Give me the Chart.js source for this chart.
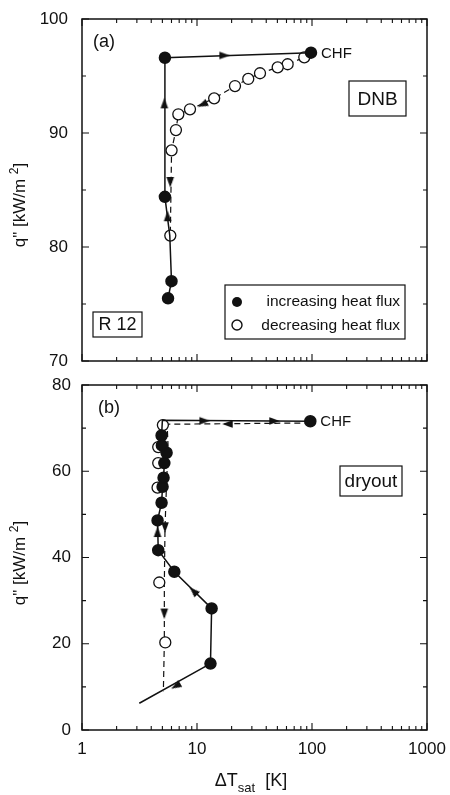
<!DOCTYPE html>
<html>
<head>
<meta charset="utf-8">
<script src="https://cdn.jsdelivr.net/npm/chart.js@4.4.0/dist/chart.umd.min.js"></script>
<style>
  html, body { margin: 0; padding: 0; background: #fff; }
  .panel { position: absolute; left: 0; width: 450px; }
</style>
</head>
<body>
<div class="panel" style="top:0;height:380px"><canvas id="chartA"></canvas></div>
<div class="panel" style="top:370px;height:425px"><canvas id="chartB"></canvas></div>
<script>
// ---- panel (a): DNB ----
const aIncX = [5.6, 6.0, 5.8, 5.26, 5.26, 98];
const aIncY = [75.5, 77.0, 81.0, 84.4, 96.6, 97.05];
const aIncMarker = [1, 1, 0, 1, 1, 1];
const aDecX = [98, 85.7, 61.4, 50.3, 35.3, 27.9, 21.4, 14.1, 8.69, 6.88, 6.56, 6.01, 5.86];
const aDecY = [97.05, 96.64, 96.03, 95.76, 95.24, 94.74, 94.12, 93.04, 92.08, 91.64, 90.26, 88.48, 81.0];
const aArrowX = [5.55, 5.2, 17.3, 11.2, 5.86];
const aArrowY = [82.7, 92.6, 96.8, 92.5, 85.7];
const aArrowRot = [0, 0, 90, 245, 180];

// ---- panel (b): dryout ----
const bIncX = [3.15, 13.1, 13.4, 6.35, 4.6, 4.54, 4.92, 5.02, 5.12, 5.2, 5.44, 4.95, 4.92, 5.0, 96.7];
const bIncY = [6.2, 15.4, 28.2, 36.7, 41.7, 48.6, 52.7, 56.4, 58.5, 61.9, 64.3, 66.0, 68.3, 71.8, 71.6];
const bIncMarker = [0, 1, 1, 1, 1, 1, 1, 1, 1, 1, 1, 1, 1, 0, 1];
const bDecX = [96.7, 5.5, 5.6, 5.4, 5.27, 5.2, 5.2, 5.1];
const bDecY = [71.2, 70.9, 66, 55, 47, 34, 20.3, 9.0];
const bOpenX = [5.05, 4.6, 4.6, 4.54, 4.7, 5.3];
const bOpenY = [70.7, 65.6, 61.9, 56.2, 34.2, 20.3];
const bArrowX = [11.6, 47, 4.54, 9.34, 6.56, 18.5, 5.27, 5.2];
const bArrowY = [71.7, 71.65, 45.9, 32.2, 10.2, 70.95, 47, 27];
const bArrowRot = [90, 90, 0, 314, 240, 270, 180, 180];

const xTickLabels = [1, 10, 100, 1000];

const INK = '#111';
const FONT = '"Liberation Sans", Arial, Helvetica, sans-serif';

function pts(xs, ys) { return xs.map((x, i) => ({ x: x, y: ys[i] })); }

// narrow arrowhead pointing up; Chart.js rotates it with pointRotation
const arrowHead = document.createElement('canvas');
arrowHead.width = 14; arrowHead.height = 14;
(function () {
  const c = arrowHead.getContext('2d');
  c.fillStyle = INK;
  c.beginPath();
  c.moveTo(7, 1.5); c.lineTo(10.8, 12); c.lineTo(3.2, 12);
  c.closePath(); c.fill();
})();

function drawRich(ctx, parts, x, y, align) {
  // parts: [text, size, dy]
  let w = 0;
  parts.forEach(p => { ctx.font = p[1] + 'px ' + FONT; w += ctx.measureText(p[0]).width; });
  let cx = align === 'center' ? x - w / 2 : x;
  ctx.textAlign = 'left';
  ctx.textBaseline = 'alphabetic';
  parts.forEach(p => {
    ctx.font = p[1] + 'px ' + FONT;
    ctx.fillText(p[0], cx, y + p[2]);
    cx += ctx.measureText(p[0]).width;
  });
}

function boxText(ctx, text, x0, y0, x1, y1, size) {
  ctx.lineWidth = 1.2;
  ctx.strokeRect(x0, y0, x1 - x0, y1 - y0);
  ctx.font = size + 'px ' + FONT;
  ctx.textAlign = 'center';
  ctx.textBaseline = 'middle';
  ctx.fillText(text, (x0 + x1) / 2, (y0 + y1) / 2 + 1);
}

function decoPlugin(cfg) {
  return {
    id: 'deco',
    afterDraw(chart) {
      const ctx = chart.ctx, a = chart.chartArea;
      const xs = chart.scales.x, ys = chart.scales.y;
      ctx.save();
      ctx.strokeStyle = INK;
      ctx.fillStyle = INK;
      ctx.lineWidth = 1.5;
      ctx.strokeRect(a.left, a.top, a.right - a.left, a.bottom - a.top);

      // inward ticks
      ctx.lineWidth = 1.1;
      ctx.beginPath();
      for (let d = 1; d <= 1000; d *= 10) {
        for (let k = 1; k < 10; k++) {
          const v = k * d;
          if (v > 1000) break;
          const px = xs.getPixelForValue(v);
          const len = k === 1 ? 7 : 4;
          ctx.moveTo(px, a.bottom); ctx.lineTo(px, a.bottom - len);
          ctx.moveTo(px, a.top); ctx.lineTo(px, a.top + len);
        }
      }
      for (let v = ys.min; v <= ys.max + 0.001; v += cfg.yMinor) {
        const py = ys.getPixelForValue(v);
        const len = (Math.round(v - ys.min) % cfg.yMajor === 0) ? 7 : 4;
        ctx.moveTo(a.left, py); ctx.lineTo(a.left + len, py);
        ctx.moveTo(a.right, py); ctx.lineTo(a.right - len, py);
      }
      ctx.stroke();

      // panel letter
      ctx.font = '18px ' + FONT;
      ctx.textAlign = 'center';
      ctx.textBaseline = 'middle';
      ctx.fillText(cfg.letter[0], cfg.letter[1], cfg.letter[2]);

      // CHF label next to the CHF point
      ctx.font = '15px ' + FONT;
      ctx.textAlign = 'left';
      ctx.fillText('CHF', xs.getPixelForValue(cfg.chf[0]) + 10, ys.getPixelForValue(cfg.chf[1]) + 1);

      // boxed notes
      cfg.boxes.forEach(b => boxText(ctx, b[0], b[1], b[2], b[3], b[4], b[5]));

      // y title
      ctx.save();
      ctx.translate(cfg.yTitle[0], cfg.yTitle[1]);
      ctx.rotate(-Math.PI / 2);
      drawRich(ctx, [['q" [kW/m ', 17, 0], ['2', 12, -7], [']', 17, 0]], 0, 6, 'center');
      ctx.restore();

      // x title
      if (cfg.xTitle) {
        drawRich(ctx, [['\u0394T', 18, 0], ['sat', 13, 6], ['  [K]', 18, 0]], cfg.xTitle[0], cfg.xTitle[1], 'center');
      }

      // legend
      if (cfg.legend) {
        const L = cfg.legend;
        ctx.lineWidth = 1.2;
        ctx.strokeRect(L[0], L[1], L[2] - L[0], L[3] - L[1]);
        const mx = L[0] + 12, y1 = L[1] + 17, y2 = L[1] + 40;
        ctx.beginPath(); ctx.arc(mx, y1, 5, 0, Math.PI * 2); ctx.fill();
        ctx.beginPath(); ctx.arc(mx, y2, 5, 0, Math.PI * 2); ctx.lineWidth = 1.4; ctx.stroke();
        ctx.font = '15.5px ' + FONT;
        ctx.textAlign = 'right';
        ctx.textBaseline = 'middle';
        ctx.fillText('increasing heat flux', L[2] - 5, y1);
        ctx.fillText('decreasing heat flux', L[2] - 5, y2 + 1);
      }
      ctx.restore();
    }
  };
}

function noPad(s) { s.paddingTop = 0; s.paddingBottom = 0; s.paddingLeft = 0; s.paddingRight = 0; }

function scalesFor(yMin, yMax, yStep, yPad, xHeight, showX) {
  return {
    x: {
      type: 'logarithmic', min: 1, max: 1000,
      grid: { display: false, drawTicks: false },
      border: { display: false },
      ticks: {
        display: showX, autoSkip: false, maxRotation: 0, padding: 9,
        color: INK, font: { family: FONT, size: 17 },
        callback: v => (xTickLabels.includes(v) ? String(v) : '')
      },
      afterFit: s => { s.height = xHeight; noPad(s); }
    },
    y: {
      min: yMin, max: yMax,
      grid: { display: false, drawTicks: false },
      border: { display: false },
      ticks: { stepSize: yStep, padding: yPad, color: INK, font: { family: FONT, size: 17 } },
      afterFit: s => { s.width = 82; noPad(s); }
    }
  };
}

const common = {
  animation: false, responsive: true, maintainAspectRatio: false, events: [],
  plugins: { legend: { display: false }, tooltip: { enabled: false } }
};

const arrowStyle = (xs, ys, rot) => ({
  data: pts(xs, ys), showLine: false, pointStyle: arrowHead,
  pointRadius: 5, pointRotation: rot, order: 3
});

new Chart(document.getElementById('chartA'), {
  type: 'scatter',
  data: {
    datasets: [
      {
        data: pts(aIncX, aIncY), showLine: true, borderColor: INK, borderWidth: 1.5,
        pointRadius: aIncMarker.map(m => m ? 5.5 : 0), pointBackgroundColor: INK,
        pointBorderColor: INK, order: 1
      },
      arrowStyle(aArrowX, aArrowY, aArrowRot),
      {
        data: pts(aDecX, aDecY), showLine: true, borderColor: INK, borderWidth: 1.2,
        borderDash: [6, 4], pointRadius: aDecX.map((v, i) => i === 0 ? 0 : 5.5),
        pointBackgroundColor: '#fff', pointBorderColor: INK, pointBorderWidth: 1.3, order: 4
      }
    ]
  },
  options: Object.assign({}, common, {
    layout: { padding: { top: 19, right: 23, left: 0, bottom: 0 }, autoPadding: false },
    scales: scalesFor(70, 100, 10, 14, 19, false)
  }),
  plugins: [decoPlugin({
    yMajor: 10, yMinor: 5,
    letter: ['(a)', 104, 42],
    chf: [aIncX[aIncX.length - 1], aIncY[aIncY.length - 1]],
    boxes: [['DNB', 349, 81, 406, 116, 19], ['R 12', 93, 312, 142, 337, 18]],
    yTitle: [19, 205],
    legend: [225, 285, 405, 339]
  })]
});

new Chart(document.getElementById('chartB'), {
  type: 'scatter',
  data: {
    datasets: [
      {
        data: pts(bIncX, bIncY), showLine: true, borderColor: INK, borderWidth: 1.5,
        pointRadius: bIncMarker.map(m => m ? 5.5 : 0), pointBackgroundColor: INK,
        pointBorderColor: INK, order: 1
      },
      {
        data: pts(bOpenX, bOpenY), showLine: false, pointRadius: 5.5,
        pointBackgroundColor: '#fff', pointBorderColor: INK, pointBorderWidth: 1.3, order: 2
      },
      arrowStyle(bArrowX, bArrowY, bArrowRot),
      {
        data: pts(bDecX, bDecY), showLine: true, borderColor: INK, borderWidth: 1.2,
        borderDash: [6, 4], pointRadius: 0, order: 4
      }
    ]
  },
  options: Object.assign({}, common, {
    layout: { padding: { top: 15, right: 23, left: 0, bottom: 0 }, autoPadding: false },
    scales: scalesFor(0, 80, 20, 11, 65, true)
  }),
  plugins: [decoPlugin({
    yMajor: 20, yMinor: 10,
    letter: ['(b)', 109, 38],
    chf: [bIncX[bIncX.length - 1], bIncY[bIncY.length - 1]],
    boxes: [['dryout', 340, 96, 402, 126, 19]],
    yTitle: [19, 193],
    xTitle: [251, 416]
  })]
});
</script>
</body>
</html>
